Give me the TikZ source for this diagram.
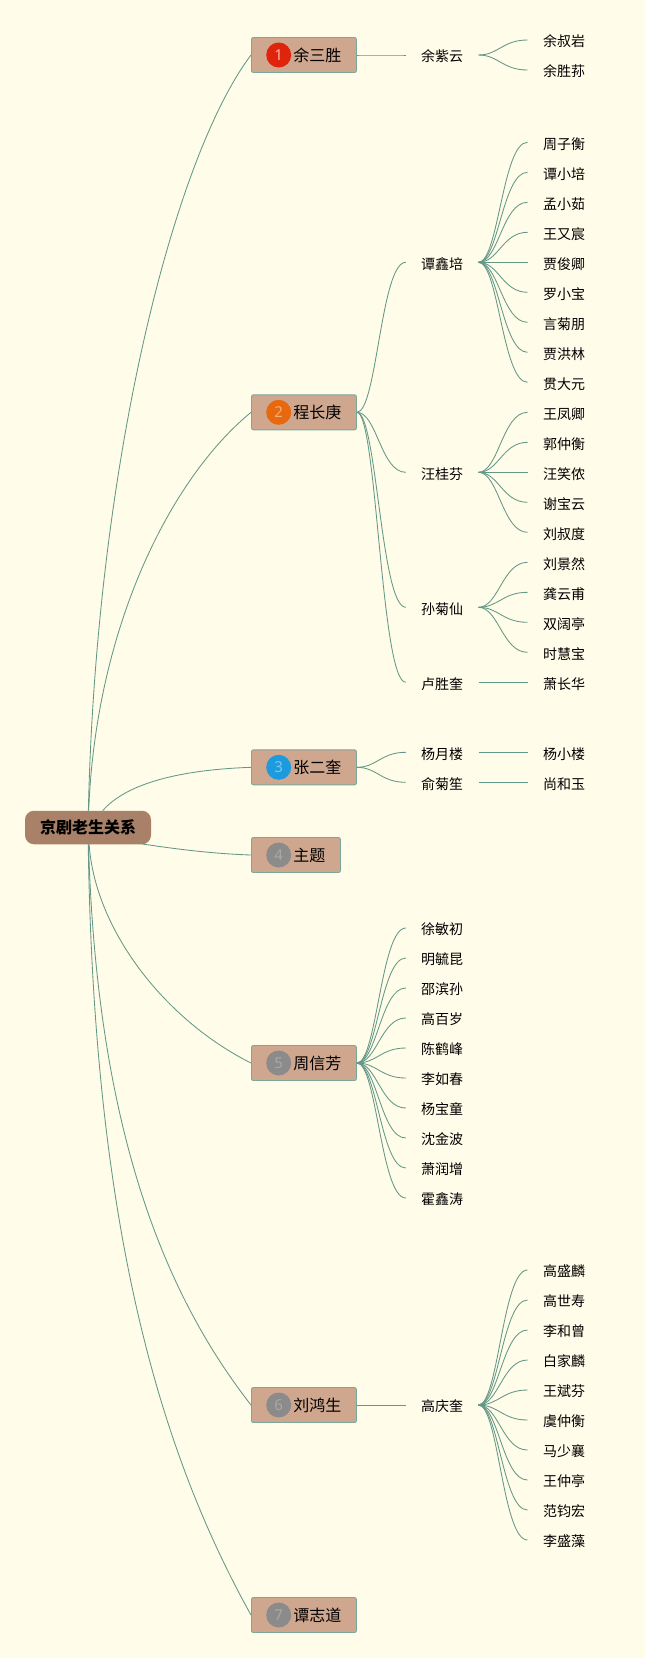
\documentclass[tikz,border=0pt]{standalone}
\usepackage{fontspec}
\setmainfont{Noto Sans CJK SC}
\newfontfamily\numfont{Noto Sans}
\usetikzlibrary{positioning}
\definecolor{paper}{HTML}{FFFCE9}
\definecolor{linkcol}{HTML}{639888}
\definecolor{boxcol}{HTML}{CFA78F}
\definecolor{rootcol}{HTML}{A98068}
\definecolor{badgeA}{HTML}{E0240C}
\definecolor{digitA}{HTML}{F6B8A8}
\definecolor{badgeB}{HTML}{E8680F}
\definecolor{digitB}{HTML}{F3AE78}
\definecolor{badgeC}{HTML}{1E9BDF}
\definecolor{digitC}{HTML}{7CC6EC}
\definecolor{badgeD}{HTML}{8B8B8B}
\definecolor{digitD}{HTML}{ABA8A2}
\begin{document}
\begin{tikzpicture}[x=1pt,y=-1pt,
	root/.style = {fill=rootcol, rounded corners=9pt, minimum width=126pt, minimum height=33.5pt, inner sep=0pt, font=\fontsize{16}{18}\selectfont\bfseries},
	topic/.style = {draw=linkcol!85, fill=boxcol, line width=0.9pt, rounded corners=2pt, anchor=west, inner xsep=15pt, inner ysep=0pt, minimum height=35pt, font=\fontsize{16}{18}\selectfont, execute at begin node=\hspace*{27pt}},
	badge/.style = {circle, inner sep=0pt, minimum size=25pt, font=\fontsize{15}{17}\selectfont\numfont},
	sub/.style = {minimum width=72.3pt, inner sep=0pt, text height=15.5pt, text depth=2pt, font=\fontsize{14}{16}\selectfont},
	leaf/.style = {minimum width=72.6pt, inner sep=0pt, text height=15.5pt, text depth=2pt, font=\fontsize{14}{16}\selectfont},
	link/.style = {draw=linkcol, line width=0.85pt},
	branch/.style = {link, to path={.. controls +(20,0) and +(-25,0) .. (\tikztotarget)}}]
	\fill[paper] (0,0) rectangle (645,1658);
	\useasboundingbox (0,0) rectangle (645,1658);
	\node[root] (r) at (88,827.5) {京剧老生关系};
	\node[topic] (t1) at (251,55) {余三胜};
	\node[topic] (t2) at (251,412.3) {程长庚};
	\node[topic] (t3) at (251,767.3) {张二奎};
	\node[topic] (t4) at (251,855) {主题};
	\node[topic] (t5) at (251,1063) {周信芳};
	\node[topic] (t6) at (251,1405) {刘鸿生};
	\node[topic] (t7) at (251,1615) {谭志道};
	\node[badge, fill=badgeA, text=digitA] (n1) [right=15pt of t1.west] {1};
	\node[badge, fill=badgeB, text=digitB] (n2) [right=15pt of t2.west] {2};
	\node[badge, fill=badgeC, text=digitC] (n3) [right=15pt of t3.west] {3};
	\node[badge, fill=badgeD, text=digitD] (n4) [right=15pt of t4.west] {4};
	\node[badge, fill=badgeD, text=digitD] (n5) [right=15pt of t5.west] {5};
	\node[badge, fill=badgeD, text=digitD] (n6) [right=15pt of t6.west] {6};
	\node[badge, fill=badgeD, text=digitD] (n7) [right=15pt of t7.west] {7};
	\node[sub] (yzy) at (442.15,55) {余紫云};
	\node[sub] (txp) at (442.15,262.3) {谭鑫培};
	\node[sub] (wgf) at (442.15,472.3) {汪桂芬};
	\node[sub] (sjx) at (442.15,607.3) {孙菊仙};
	\node[sub] (lsk) at (442.15,682.3) {卢胜奎};
	\node[sub] (yyl) at (442.15,752.3) {杨月楼};
	\node[sub] (yjs) at (442.15,782.3) {俞菊笙};
	\node[sub] (s1) at (442.15,928) {徐敏初};
	\node[sub] (s2) at (442.15,958) {明毓昆};
	\node[sub] (s3) at (442.15,988) {邵滨孙};
	\node[sub] (s4) at (442.15,1018) {高百岁};
	\node[sub] (s5) at (442.15,1048) {陈鹤峰};
	\node[sub] (s6) at (442.15,1078) {李如春};
	\node[sub] (s7) at (442.15,1108) {杨宝童};
	\node[sub] (s8) at (442.15,1138) {沈金波};
	\node[sub] (s9) at (442.15,1168) {萧润增};
	\node[sub] (s10) at (442.15,1198) {霍鑫涛};
	\node[sub] (gqk) at (442.15,1405) {高庆奎};
	\node[leaf] (a1) at (564,40) {余叔岩};
	\node[leaf] (a2) at (564,70) {余胜荪};
	\node[leaf] (b1) at (564,142.3) {周子衡};
	\node[leaf] (b2) at (564,172.3) {谭小培};
	\node[leaf] (b3) at (564,202.3) {孟小茹};
	\node[leaf] (b4) at (564,232.3) {王又宸};
	\node[leaf] (b5) at (564,262.3) {贾俊卿};
	\node[leaf] (b6) at (564,292.3) {罗小宝};
	\node[leaf] (b7) at (564,322.3) {言菊朋};
	\node[leaf] (b8) at (564,352.3) {贾洪林};
	\node[leaf] (b9) at (564,382.3) {贯大元};
	\node[leaf] (c1) at (564,412.3) {王凤卿};
	\node[leaf] (c2) at (564,442.3) {郭仲衡};
	\node[leaf] (c3) at (564,472.3) {汪笑侬};
	\node[leaf] (c4) at (564,502.3) {谢宝云};
	\node[leaf] (c5) at (564,532.3) {刘叔度};
	\node[leaf] (d1) at (564,562.3) {刘景然};
	\node[leaf] (d2) at (564,592.3) {龚云甫};
	\node[leaf] (d3) at (564,622.3) {双阔亭};
	\node[leaf] (d4) at (564,652.3) {时慧宝};
	\node[leaf] (e1) at (564,682.3) {萧长华};
	\node[leaf] (f1) at (564,752.3) {杨小楼};
	\node[leaf] (f2) at (564,782.3) {尚和玉};
	\node[leaf] (g1) at (564,1270) {高盛麟};
	\node[leaf] (g2) at (564,1300) {高世寿};
	\node[leaf] (g3) at (564,1330) {李和曾};
	\node[leaf] (g4) at (564,1360) {白家麟};
	\node[leaf] (g5) at (564,1390) {王斌芬};
	\node[leaf] (g6) at (564,1420) {虞仲衡};
	\node[leaf] (g7) at (564,1450) {马少襄};
	\node[leaf] (g8) at (564,1480) {王仲亭};
	\node[leaf] (g9) at (564,1510) {范钧宏};
	\node[leaf] (g10) at (564,1540) {李盛藻};
	\draw[link] (r) .. controls (96,470) and (172,160) .. (t1.west);
	\draw[link] (r) .. controls (96,626) and (171,478) .. (t2.west);
	\draw[link] (r) .. controls (125,785) and (175,770) .. (t3.west);
	\draw[link] (r) .. controls (135,842) and (190,853) .. (t4.west);
	\draw[link] (r) .. controls (95,930) and (165,1020) .. (t5.west);
	\draw[link] (r) .. controls (97,1133) and (166,1296) .. (t6.west);
	\draw[link] (r) .. controls (94,1244) and (166,1462) .. (t7.west);
	\draw[branch] (t1.east) to (yzy.west);
	\draw[branch] (t2.east) to (txp.west);
	\draw[branch] (t2.east) to (wgf.west);
	\draw[branch] (t2.east) to (sjx.west);
	\draw[branch] (t2.east) to (lsk.west);
	\draw[branch] (t3.east) to (yyl.west);
	\draw[branch] (t3.east) to (yjs.west);
	\draw[branch] (t5.east) to (s1.west);
	\draw[branch] (t5.east) to (s2.west);
	\draw[branch] (t5.east) to (s3.west);
	\draw[branch] (t5.east) to (s4.west);
	\draw[branch] (t5.east) to (s5.west);
	\draw[branch] (t5.east) to (s6.west);
	\draw[branch] (t5.east) to (s7.west);
	\draw[branch] (t5.east) to (s8.west);
	\draw[branch] (t5.east) to (s9.west);
	\draw[branch] (t5.east) to (s10.west);
	\draw[branch] (t6.east) to (gqk.west);
	\draw[branch] (yzy.east) to (a1.west);
	\draw[branch] (yzy.east) to (a2.west);
	\draw[branch] (txp.east) to (b1.west);
	\draw[branch] (txp.east) to (b2.west);
	\draw[branch] (txp.east) to (b3.west);
	\draw[branch] (txp.east) to (b4.west);
	\draw[branch] (txp.east) to (b5.west);
	\draw[branch] (txp.east) to (b6.west);
	\draw[branch] (txp.east) to (b7.west);
	\draw[branch] (txp.east) to (b8.west);
	\draw[branch] (txp.east) to (b9.west);
	\draw[branch] (wgf.east) to (c1.west);
	\draw[branch] (wgf.east) to (c2.west);
	\draw[branch] (wgf.east) to (c3.west);
	\draw[branch] (wgf.east) to (c4.west);
	\draw[branch] (wgf.east) to (c5.west);
	\draw[branch] (sjx.east) to (d1.west);
	\draw[branch] (sjx.east) to (d2.west);
	\draw[branch] (sjx.east) to (d3.west);
	\draw[branch] (sjx.east) to (d4.west);
	\draw[branch] (lsk.east) to (e1.west);
	\draw[branch] (yyl.east) to (f1.west);
	\draw[branch] (yjs.east) to (f2.west);
	\draw[branch] (gqk.east) to (g1.west);
	\draw[branch] (gqk.east) to (g2.west);
	\draw[branch] (gqk.east) to (g3.west);
	\draw[branch] (gqk.east) to (g4.west);
	\draw[branch] (gqk.east) to (g5.west);
	\draw[branch] (gqk.east) to (g6.west);
	\draw[branch] (gqk.east) to (g7.west);
	\draw[branch] (gqk.east) to (g8.west);
	\draw[branch] (gqk.east) to (g9.west);
	\draw[branch] (gqk.east) to (g10.west);
\end{tikzpicture}
\end{document}
